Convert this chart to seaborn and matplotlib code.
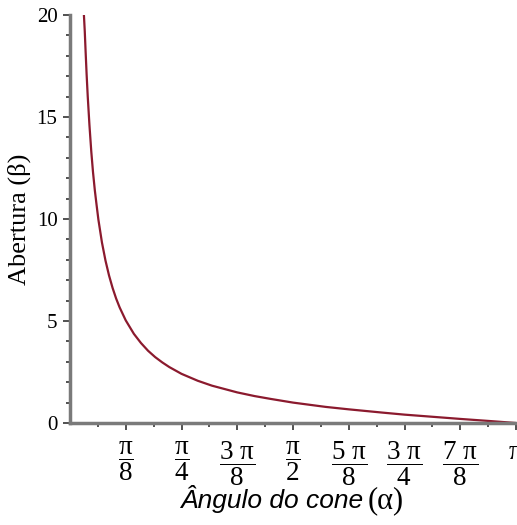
import numpy as np
import pandas as pd
import matplotlib
matplotlib.use("Agg")
from matplotlib import pyplot as plt
from matplotlib.ticker import FixedLocator, MultipleLocator
import seaborn as sns

# values
alpha = [0.098, 0.104, 0.11, 0.117, 0.125, 0.137, 0.15, 0.162, 0.175, 0.187,
         0.2, 0.225, 0.25, 0.275, 0.3, 0.325, 0.35, 0.3927, 0.45, 0.5, 0.55,
         0.6, 0.65, 0.7, 0.7854, 0.9, 1.0, 1.178, 1.3, 1.414, 1.571, 1.8,
         1.963, 2.2, 2.356, 2.6, 2.749, 2.95, 3.1416]
beta = [20.0, 19.2, 18.2, 17.1, 16.0, 14.6, 13.3, 12.3, 11.4, 10.7,
        9.97, 8.85, 7.96, 7.23, 6.62, 6.10, 5.66, 5.03, 4.37, 3.92, 3.54,
        3.23, 2.97, 2.74, 2.41, 2.07, 1.83, 1.50, 1.32, 1.18, 1.00, 0.79,
        0.67, 0.51, 0.41, 0.28, 0.20, 0.10, 0.0]
xtick_vals = [np.pi * k / 8 for k in range(1, 9)]
xtick_labels = [r"$\dfrac{\pi}{8}$", r"$\dfrac{\pi}{4}$", r"$\dfrac{3\ \pi}{8}$",
                r"$\dfrac{\pi}{2}$", r"$\dfrac{5\ \pi}{8}$", r"$\dfrac{3\ \pi}{4}$",
                r"$\dfrac{7\ \pi}{8}$", r"$\pi$"]
yticks = [0, 5, 10, 15, 20]

df = pd.DataFrame({"alpha": alpha, "beta": beta})

sns.set_style("white")
plt.rcParams["font.family"] = ["Liberation Serif", "DejaVu Serif"]
plt.rcParams["mathtext.fontset"] = "custom"
plt.rcParams["mathtext.rm"] = "Liberation Serif"
plt.rcParams["mathtext.it"] = "Liberation Serif"
plt.rcParams["text.color"] = "black"
plt.rcParams["axes.labelcolor"] = "black"
plt.rcParams["xtick.color"] = "black"
plt.rcParams["ytick.color"] = "black"

fig = plt.figure(figsize=(5.17, 5.25), dpi=100)
ax = fig.add_axes([70 / 517, 102 / 525, 446 / 517, 408 / 525])

sns.lineplot(data=df, x="alpha", y="beta", ax=ax, color="#8b1a2e", linewidth=1.6)

ax.set_xlim(0, np.pi)
ax.set_ylim(0, 20)
ax.xaxis.set_major_locator(FixedLocator(xtick_vals))
ax.set_xticklabels(xtick_labels, fontsize=19.5)
ax.xaxis.set_minor_locator(FixedLocator([np.pi * (2 * k + 1) / 16 for k in range(8)]))
ax.set_yticks(yticks)
ax.set_yticklabels([str(v) for v in yticks], fontsize=15)
ax.yaxis.set_minor_locator(MultipleLocator(1))

for s in ["top", "right"]:
    ax.spines[s].set_visible(False)
for s in ["left", "bottom"]:
    ax.spines[s].set_color("#7a7a7a")
    ax.spines[s].set_linewidth(2.5)

ax.tick_params(which="both", bottom=True, left=True, direction="out", width=1.2)
ax.tick_params(which="major", length=5, color="#333333", pad=4)
ax.tick_params(which="minor", length=3, color="#333333")
ax.tick_params(axis="x", which="major", pad=7)

ax.set_ylabel("Abertura (β)", fontsize=19, labelpad=4)
ax.set_xlabel("")
fig.text(363 / 517, 0.022, "Ângulo do cone", fontsize=19, style="italic",
         family=["Liberation Sans"], ha="right", va="bottom")
fig.text(368 / 517, 0.018, "(α)", fontsize=22, ha="left", va="bottom")

fig.savefig("out.png", dpi=100)
